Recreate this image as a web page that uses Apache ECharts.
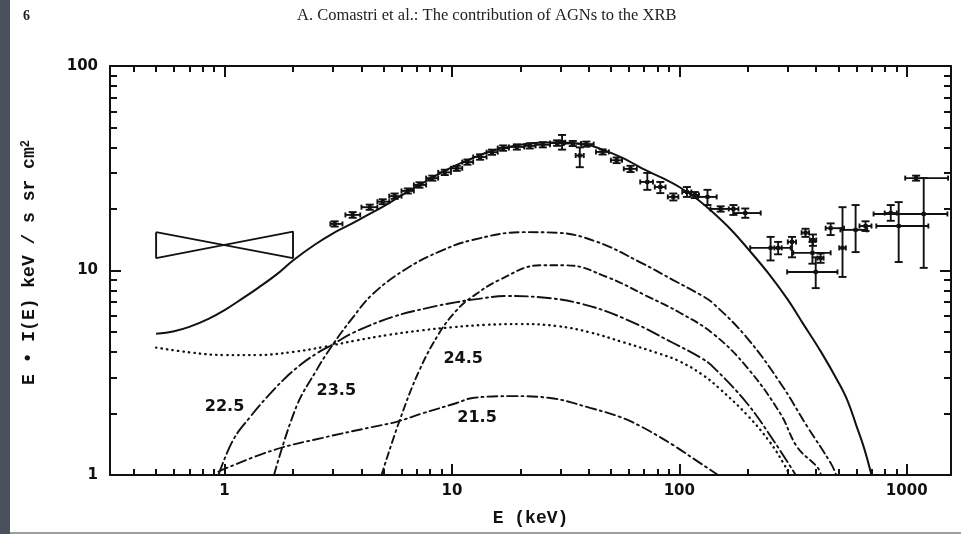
<!DOCTYPE html>
<html><head><meta charset="utf-8">
<script src="https://cdn.jsdelivr.net/npm/echarts@6/dist/echarts.min.js"></script>
<style>html,body{margin:0;padding:0;background:#fff;overflow:hidden}#c{width:961px;height:534px}</style>
</head><body><div id="c"></div>
<script>
// ---------- axis ticks ----------
const xTickValues = [1, 10, 100, 1000];
const xTickLabels = ['1', '10', '100', '1000'];
const xMinorTicks = [0.4,0.5,0.6,0.7,0.8,0.9, 2,3,4,5,6,7,8,9, 20,30,40,50,60,70,80,90, 200,300,400,500,600,700,800,900];
const yTickValues = [1, 10, 100];
const yTickLabels = ['1', '10', '100'];
const yMinorTicks = [2,3,4,5,6,7,8,9, 20,30,40,50,60,70,80,90];
const xRange = [0.3135, 1566];
const yRange = [1, 100];

// ---------- total model (solid) ----------
const totalE = [0.5,0.6,0.7,0.85,1,1.2,1.4,1.7,2,2.5,3,3.5,4,5,6,7,8,10,12,15,20,25,30,40,45,50,60,70,85,100,120,140,170,200,250,300,350,420,500,550,600,650,700];
const totalV = [4.9,5.05,5.3,5.8,6.4,7.3,8.2,9.6,11.2,13.4,15.2,16.6,18.0,20.6,23.3,25.8,28.0,32.0,35.0,38.5,41.2,42.2,42.3,41.0,39.3,37.6,34.3,31.2,28.2,25.6,22.3,19.3,15.7,12.8,9.5,7.2,5.5,4.0,2.85,2.3,1.75,1.35,1.0];

// ---------- unabsorbed component (dotted) ----------
const dotE = [0.5,0.7,1,1.4,2,2.7,3.8,5.3,7.4,10,14,20,29,40,57,80,100,125,150,200,250,290,305];
const dotV = [4.2,3.98,3.86,3.86,4.0,4.22,4.55,4.85,5.1,5.28,5.42,5.47,5.35,5.0,4.45,3.95,3.6,3.12,2.65,1.95,1.45,1.12,1.0];

// ---------- absorbed components (log NH labels) ----------
const c215E = [0.94,1.63,2.7,4.5,5.7,7.4,10.5,12.3,18.6,27,40.5,55,67,80,94,124,148];
const c215V = [1.04,1.32,1.52,1.72,1.82,2.0,2.25,2.38,2.43,2.38,2.13,1.92,1.74,1.56,1.40,1.14,1.0];
const c225E = [0.94,1.09,1.295,1.54,1.81,2.15,2.56,2.96,3.66,5.5,8,10.5,12.3,17.5,24.4,36.6,56.7,94,124,141,198,259,325];
const c225V = [1.0,1.48,1.92,2.41,2.91,3.45,3.95,4.32,4.95,5.93,6.6,7.0,7.2,7.5,7.4,6.9,5.85,4.42,3.75,3.37,2.25,1.48,1.0];
const c235E = [1.65,2.07,2.54,2.95,3.67,4.5,6.3,8.85,12.3,20.5,29,43.5,67,94,124,141,198,278,366,464,490];
const c235V = [1.0,2.16,3.26,4.24,5.9,7.7,10.2,12.4,14.1,15.4,15.3,13.8,11.0,8.98,7.6,6.9,4.7,2.82,1.72,1.14,1.0];
const c245E = [4.9,5.9,7.2,8.85,10.5,12,16.2,24.4,32,48,72,101,141,198,278,330,405,420];
const c245V = [1.0,1.86,3.26,5.0,6.4,7.3,9.0,10.6,10.6,9.3,7.5,6.2,4.9,3.37,2.0,1.37,1.09,1.0];

// ---------- curve labels ----------
const labelText = ['22.5', '23.5', '24.5', '21.5'];
const labelE = [1.0, 3.1, 11.2, 12.9];
const labelV = [2.15, 2.57, 3.69, 1.9];

// ---------- bow-tie (low-energy slope range) ----------
const bowE = [0.5, 2.0, 2.0, 0.5, 0.5];
const bowV = [15.4, 11.5, 15.5, 11.5, 15.4];

// ---------- measured XRB data with error bars ----------
const ptE   = [3.05,3.66,4.35,4.96,5.6,6.4,7.2,8.2,9.3,10.5,11.7,13.3,15.0,16.8,19.3,22.0,25.1,29.0,30.5,34.0,36.5,39.0,46,53,61,72.3,82.5,94.1,108,117,133,152,173,195,252,272,313,359,387,385,418,398,522,463,596,659,851,922,1188,1100];
const ptV   = [16.9,18.7,20.4,21.7,23.1,24.5,26.2,28.3,30.2,31.6,33.9,35.9,37.9,39.7,40.2,40.7,41.2,42.0,42.4,41.8,36.5,41.5,38.0,34.6,31.4,27.1,25.6,22.9,24.2,23.4,22.9,20.0,20.0,19.1,12.9,12.9,13.8,15.3,14.1,12.2,11.5,9.84,12.9,16.1,15.8,16.5,19.1,16.5,18.9,28.3];
const ptElo = [2.92,3.4,4.0,4.7,5.3,6.0,6.8,7.7,8.7,9.9,11.1,12.4,14.2,15.9,17.8,20.8,23.3,27.0,29.5,31.0,35,37,43,50,57,67.3,78,89,103,112,120,137,165,173,205,262,300,345,375,317,405,298,505,440,511,620,800,735,715,985];
const ptEhi = [3.3,3.95,4.7,5.3,6.0,6.8,7.7,8.7,9.9,11.1,12.4,14.2,15.9,17.8,20.8,23.3,27.0,31.0,31.5,37.0,38,42,49,56,65,76.6,87,99,113,122,146,172,182,228,309,282,326,372,400,463,431,496,540,530,670,700,905,1245,1510,1520];
const ptVlo = [16.4,18.1,19.8,21.1,22.4,23.8,25.4,27.5,29.3,30.7,32.9,34.8,36.8,38.5,39.0,39.5,40.0,40.7,39.0,40.6,32.0,40.3,36.9,33.5,30.3,24.8,23.9,22.0,22.9,22.6,20.9,19.4,18.7,18.1,11.2,12.0,11.6,14.6,13.2,10.8,10.9,8.2,9.3,14.9,12.3,15.6,17.5,11.0,10.3,27.5];
const ptVhi = [17.4,19.3,21.0,22.3,23.8,25.2,27.0,29.1,31.1,32.5,34.9,37.0,39.0,40.9,41.4,41.9,42.4,43.3,46.0,43.0,40.0,42.7,39.1,35.7,32.5,30.0,27.1,23.8,25.6,24.2,24.8,20.6,20.9,20.1,14.6,13.8,14.6,16.0,15.0,13.8,12.1,11.6,20.4,17.0,20.9,17.4,20.9,21.6,28.3,29.1];

// ---------- helpers ----------
const L = Math.log10;
const pair = (E, V) => E.map((e, i) => [L(e), L(V[i])]);
const X_MIN = L(xRange[0]), X_MAX = L(xRange[1]);
const Y_MIN = L(yRange[0]), Y_MAX = L(yRange[1]);
const INK = '#111';
const tickFont = { fontFamily: 'DejaVu Sans', fontWeight: 'bold', fontSize: 15, color: INK };

function labelFor(vals, labels) {
  return v => { const i = vals.findIndex(t => Math.abs(L(t) - v) < 1e-6); return i >= 0 ? labels[i] : ''; };
}
function makeAxis(kind, pos, ticks, len, extra) {
  const isX = kind === 'x';
  return Object.assign({
    type: 'value', position: pos,
    min: isX ? X_MIN : Y_MIN, max: isX ? X_MAX : Y_MAX,
    axisLine: { show: false, onZero: false, lineStyle: { color: INK, width: 2 } },
    axisTick: { show: true, inside: true, length: len, customValues: ticks.map(L), lineStyle: { color: INK, width: 2 } },
    axisLabel: { show: false },
    splitLine: { show: false }, minorTick: { show: false }
  }, extra || {});
}

const xAxes = [
  makeAxis('x', 'bottom', xMinorTicks, 6, {
    axisLine: { show: true, onZero: false, lineStyle: { color: INK, width: 2 } },
    axisLabel: Object.assign({ show: true, customValues: xTickValues.map(L), margin: 9, formatter: labelFor(xTickValues, xTickLabels) }, tickFont),
    name: 'E (keV)', nameLocation: 'middle', nameGap: 34,
    nameTextStyle: { fontFamily: 'Liberation Mono', fontWeight: 'bold', fontSize: 18, color: INK }
  }),
  makeAxis('x', 'bottom', xTickValues, 11),
  makeAxis('x', 'top', xMinorTicks, 6, { axisLine: { show: true, onZero: false, lineStyle: { color: INK, width: 2 } } }),
  makeAxis('x', 'top', xTickValues, 11)
];
const yAxes = [
  makeAxis('y', 'left', yMinorTicks, 7, {
    axisLine: { show: true, onZero: false, lineStyle: { color: INK, width: 2 } },
    axisLabel: Object.assign({ show: true, customValues: yTickValues.map(L), margin: 12, formatter: labelFor(yTickValues, yTickLabels) }, tickFont),
    name: 'E \u2022 I(E) keV / s sr cm{sup|2}', nameLocation: 'middle', nameGap: 72,
    nameTextStyle: { fontFamily: 'Liberation Mono', fontWeight: 'bold', fontSize: 18, color: INK, padding: [0, 0, 0, 16],
      rich: { sup: { fontFamily: 'Liberation Mono', fontWeight: 'bold', fontSize: 12, color: INK, verticalAlign: 'top', lineHeight: 12 } } }
  }),
  makeAxis('y', 'left', yTickValues, 11),
  makeAxis('y', 'right', yMinorTicks, 7, { axisLine: { show: true, onZero: false, lineStyle: { color: INK, width: 2 } } }),
  makeAxis('y', 'right', yTickValues, 11)
];

function curve(name, E, V, dash, width) {
  return { name, type: 'line', data: pair(E, V), showSymbol: false, smooth: 0.4, silent: true,
    lineStyle: { color: INK, width: width || 1.9, type: dash, cap: dash === 'solid' ? 'butt' : 'round' }, z: 3 };
}

const errData = ptE.map((e, i) => [L(e), L(ptV[i]), L(ptElo[i]), L(ptEhi[i]), L(ptVlo[i]), L(ptVhi[i])]);

function renderErr(params, api) {
  const c = api.coord([api.value(0), api.value(1)]);
  const l = api.coord([api.value(2), api.value(1)]);
  const r = api.coord([api.value(3), api.value(1)]);
  const b = api.coord([api.value(0), api.value(4)]);
  const t = api.coord([api.value(0), api.value(5)]);
  const st = { stroke: INK, lineWidth: 1.9 };
  const ln = (x1, y1, x2, y2) => ({ type: 'line', shape: { x1, y1, x2, y2 }, style: st });
  const ch = [
    ln(l[0], l[1], r[0], r[1]),
    ln(l[0], l[1] - 2.5, l[0], l[1] + 2.5),
    ln(r[0], r[1] - 2.5, r[0], r[1] + 2.5),
    ln(b[0], b[1], t[0], t[1]),
    ln(b[0] - 4, b[1], b[0] + 4, b[1]),
    ln(t[0] - 4, t[1], t[0] + 4, t[1]),
    { type: 'rect', shape: { x: c[0] - 2, y: c[1] - 2, width: 4, height: 4 }, style: { fill: INK } }
  ];
  return { type: 'group', children: ch };
}

function renderLabel(params, api) {
  const p = api.coord([api.value(0), api.value(1)]);
  return { type: 'text', x: p[0], y: p[1],
    style: { text: labelText[api.value(2)], fill: INK, align: 'center', verticalAlign: 'middle',
      font: 'bold 16px "DejaVu Sans"' } };
}

const option = {
  animation: false,
  backgroundColor: '#ffffff',
  title: [
    { text: '6', left: 18, top: 4, textStyle: { fontFamily: 'Liberation Serif', fontWeight: 'bold', fontSize: 14, color: '#222' } },
    { text: 'A. Comastri et al.: The contribution of AGNs to the XRB', left: 292, top: 2,
      textStyle: { fontFamily: 'Liberation Serif', fontWeight: 'normal', fontSize: 16.5, color: '#222' } }
  ],
  grid: { left: 110, right: 10, top: 66, bottom: 59, containLabel: false },
  xAxis: xAxes,
  yAxis: yAxes,
  series: [
    curve('total', totalE, totalV, 'solid', 2),
    curve('unabsorbed', dotE, dotV, [0.5, 5], 2.3),
    curve('21.5', c215E, c215V, [10, 4, 2, 4]),
    curve('22.5', c225E, c225V, [13, 4, 2, 4]),
    curve('23.5', c235E, c235V, [9, 4, 2, 4]),
    curve('24.5', c245E, c245V, [7, 4, 2, 4]),
    { name: 'bowtie', type: 'line', data: pair(bowE, bowV), showSymbol: false, silent: true,
      lineStyle: { color: INK, width: 1.9 }, z: 3 },
    { name: 'data', type: 'custom', renderItem: renderErr, data: errData, silent: true, z: 4 },
    { name: 'labels', type: 'custom', renderItem: renderLabel, silent: true, z: 5,
      data: labelE.map((e, i) => [L(e), L(labelV[i]), i]) }
  ],
  graphic: [
    { type: 'rect', left: 0, top: 0, shape: { width: 10, height: 534 }, style: { fill: '#4a505e' }, z: 100 },
    { type: 'rect', left: 10, top: 532, shape: { width: 951, height: 2 }, style: { fill: '#9a9ea6' }, z: 100 }
  ]
};
const chart = echarts.init(document.getElementById('c'), null, { renderer: 'canvas' });
chart.setOption(option);
</script></body></html>
